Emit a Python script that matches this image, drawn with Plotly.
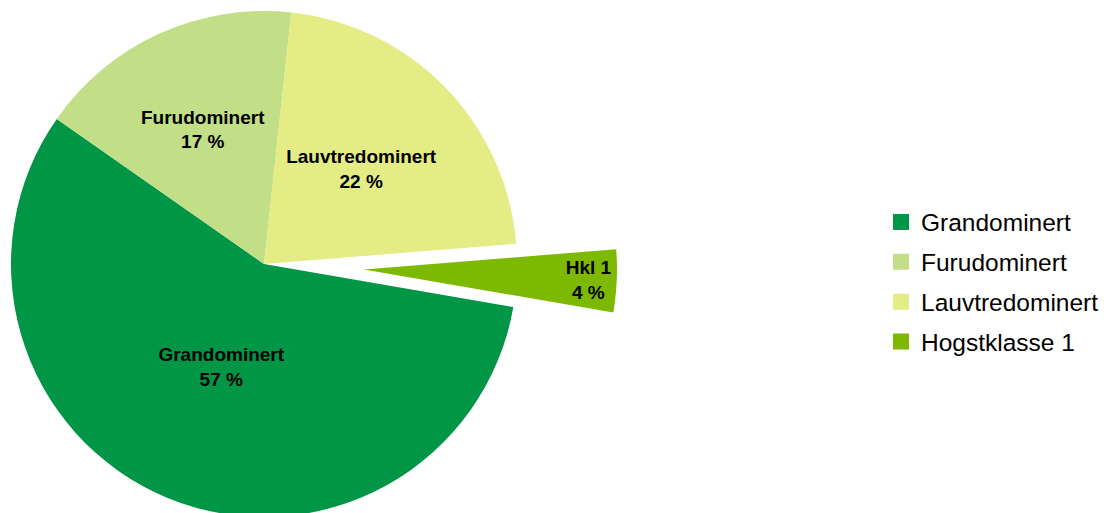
import plotly.graph_objects as go

# ---- data ----
categories = ["Grandominert", "Furudominert", "Lauvtredominert", "Hogstklasse 1"]
slice_labels = ["Grandominert", "Furudominert", "Lauvtredominert", "Hkl 1"]
shares = [57, 17, 22, 4]
colors = ["#009646", "#C2DE86", "#E4EC85", "#7DB900"]

# page body has an 8px margin; layout coords below are in plot pixels
W, H = 1116, 530
R = 253
R_LABEL = 0.88 * R
CX_MAIN, CY_MAIN = 256, 256
CX_PULL, CY_PULL = 356, 261.5
ROT = 99.8
font_family = "Liberation Sans, Arial, sans-serif"

is_pulled = [l == "Hkl 1" for l in slice_labels]
label_texts = [f"<b>{l}<br>{v} %</b>" for l, v in zip(slice_labels, shares)]
clear = "rgba(0,0,0,0)"


def dom(cx, cy, r):
    return dict(x=[(cx - r) / W, (cx + r) / W], y=[1 - (cy + r) / H, 1 - (cy - r) / H])


def pie(colors_, texts_, domain, hover=True):
    return go.Pie(
        labels=categories, values=shares, text=texts_, textinfo="text",
        sort=False, direction="clockwise", rotation=ROT,
        marker=dict(colors=colors_, line=dict(width=0)),
        textposition="inside", insidetextorientation="horizontal",
        textfont=dict(family=font_family, size=19, color="black"),
        domain=domain, showlegend=False,
        hoverinfo="label+percent" if hover else "skip",
    )


fig = go.Figure()
# main pie (pulled slice left out)
fig.add_trace(pie([clear if p else c for p, c in zip(is_pulled, colors)],
                  ["" for _ in shares], dom(CX_MAIN, CY_MAIN, R)))
# pulled-out slice
fig.add_trace(pie([c if p else clear for p, c in zip(is_pulled, colors)],
                  [t if p else "" for p, t in zip(is_pulled, label_texts)],
                  dom(CX_PULL, CY_PULL, R)))
# labels of the main slices
fig.add_trace(pie([clear for _ in shares],
                  ["" if p else t for p, t in zip(is_pulled, label_texts)],
                  dom(CX_MAIN, CY_MAIN, R_LABEL), hover=False))

for cat, col in zip(categories, colors):
    fig.add_trace(go.Scatter(
        x=[None], y=[None], mode="markers", name=cat, legendgroup=cat,
        marker=dict(symbol="square", size=16, color=col),
    ))

fig.update_layout(
    width=W, height=H,
    margin=dict(l=0, r=0, t=0, b=0),
    paper_bgcolor="white", plot_bgcolor="white",
    xaxis=dict(visible=False), yaxis=dict(visible=False),
    uniformtext=dict(minsize=19, mode="show"),
    legend=dict(
        x=873 / W, y=1 - 191.5 / H, xanchor="left", yanchor="top",
        font=dict(family=font_family, size=24.5, color="black"),
        tracegroupgap=5, bgcolor="rgba(0,0,0,0)",
    ),
)

fig.write_html("out.html")
